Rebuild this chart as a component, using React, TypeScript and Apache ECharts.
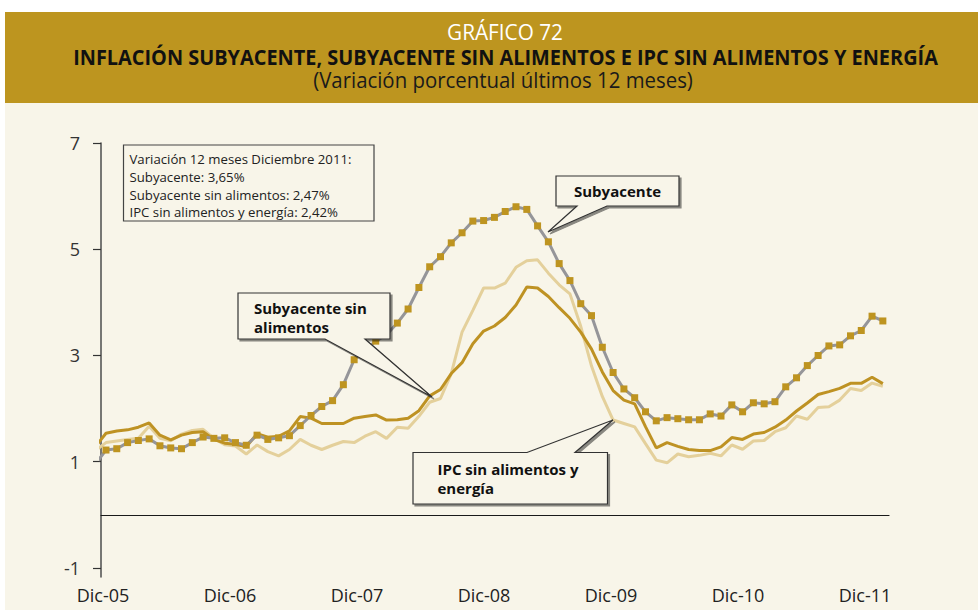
import React, { useEffect, useRef } from "react";
import * as echarts from "echarts";

// Month index 0 = Dic-05; the first value of each series is Nov-05 (index -1)
const startIndex = -1;

const xLabels = ["Dic-05", "Dic-06", "Dic-07", "Dic-08", "Dic-09", "Dic-10", "Dic-11"];
const yTicks = [-1, 1, 3, 5, 7];

const subyacente = [
  0.95,
  1.22, 1.245, 1.36, 1.40, 1.43, 1.30, 1.26, 1.245, 1.36, 1.465,
  1.44, 1.45, 1.36, 1.31, 1.50, 1.42, 1.45, 1.49, 1.68, 1.87,
  2.04, 2.15, 2.45, 2.92, 3.10, 3.27, 3.39, 3.61, 3.875, 4.28,
  4.67, 4.86, 5.12, 5.31, 5.53, 5.54, 5.60, 5.71, 5.80, 5.75,
  5.44, 5.14, 4.73, 4.41, 3.975, 3.75, 3.155, 2.68, 2.37, 2.205,
  1.94, 1.77, 1.83, 1.81, 1.79, 1.79, 1.90, 1.86, 2.07, 1.94,
  2.11, 2.09, 2.13, 2.41, 2.58, 2.81, 3.00, 3.18, 3.20, 3.37,
  3.47, 3.74, 3.65,
];

const subyacenteSinAlimentos = [
  1.28,
  1.535, 1.58, 1.60, 1.65, 1.73, 1.50, 1.41, 1.50, 1.55, 1.565,
  1.42, 1.35, 1.33, 1.28, 1.53, 1.46, 1.48, 1.58, 1.85, 1.82,
  1.72, 1.72, 1.72, 1.82, 1.85, 1.88, 1.785, 1.79, 1.82, 1.96,
  2.24, 2.36, 2.66, 2.865, 3.22, 3.46, 3.555, 3.715, 3.95, 4.29,
  4.27, 4.11, 3.90, 3.70, 3.44, 3.12, 2.69, 2.34, 2.16, 2.09,
  1.66, 1.26, 1.36, 1.29, 1.23, 1.21, 1.21, 1.28, 1.455, 1.42,
  1.52, 1.55, 1.65, 1.785, 1.955, 2.105, 2.265, 2.32, 2.38, 2.475,
  2.475, 2.59, 2.47,
];

const ipcSinAlimentosEnergia = [
  1.21,
  1.36, 1.39, 1.42, 1.44, 1.67, 1.44, 1.395, 1.52, 1.59, 1.61,
  1.44, 1.32, 1.295, 1.145, 1.315, 1.19, 1.11, 1.23, 1.42, 1.31,
  1.23, 1.31, 1.38, 1.36, 1.48, 1.565, 1.44, 1.65, 1.63, 1.855,
  2.12, 2.19, 2.66, 3.44, 3.85, 4.27, 4.27, 4.36, 4.66, 4.785,
  4.80, 4.55, 4.33, 4.16, 3.55, 2.80, 2.23, 1.785, 1.72, 1.655,
  1.34, 1.03, 0.98, 1.145, 1.095, 1.12, 1.16, 1.11, 1.315, 1.235,
  1.39, 1.40, 1.565, 1.64, 1.86, 1.80, 2.02, 2.035, 2.16, 2.38,
  2.34, 2.48, 2.42,
];

const titleTop = "GRÁFICO 72";
const titleMain = "INFLACIÓN SUBYACENTE, SUBYACENTE SIN ALIMENTOS E IPC SIN ALIMENTOS Y ENERGÍA";
const titleSub = "(Variación porcentual últimos 12 meses)";
const infoLines = [
  "Variación 12 meses Diciembre 2011:",
  "Subyacente: 3,65%",
  "Subyacente sin alimentos: 2,47%",
  "IPC sin alimentos y energía: 2,42%",
];
const calloutSub = ["Subyacente"];
const calloutSinAlim = ["Subyacente sin", "alimentos"];
const calloutIpc = ["IPC sin alimentos y", "energía"];

const GOLD = "#BD951F";
const CREAM = "#F8F5E9";
const SANS = '"Open Sans", "Noto Sans", sans-serif';

function toPoints(values: number[]) {
  return values.map((v, i) => [i + startIndex, v]);
}

function measure(text: string, size: number, weight: string) {
  const ctx = document.createElement("canvas").getContext("2d");
  if (!ctx) return text.length * size * 0.55;
  ctx.font = `${weight} ${size}px "Open Sans", "Noto Sans", sans-serif`;
  return ctx.measureText(text).width;
}

function fitTitle(text: string, x: number, y: number, size: number, weight: string, fill: string, width: number) {
  const w = measure(text, size, weight);
  const sx = w > 0 ? width / w : 1;
  return {
    type: "text",
    z: 10,
    x,
    y,
    scaleX: sx,
    style: { text, fill, fontSize: size, fontFamily: SANS, fontWeight: weight, align: "center", verticalAlign: "middle" },
  };
}

export default function App() {
  const ref = useRef<HTMLDivElement>(null);

  useEffect(() => {
    if (!ref.current) return;
    const chart = echarts.init(ref.current, null, { renderer: "svg" });

    const grayData = subyacente.map((v, i) =>
      i + startIndex < 0
        ? { value: [i + startIndex, v], symbol: "none" }
        : { value: [i + startIndex, v] }
    );

    const boxStroke = "#333333";
    const shadow = {
      shadowColor: "rgba(0,0,0,0.45)",
      shadowOffsetX: 2,
      shadowOffsetY: 2,
      shadowBlur: 1,
    };

    const option: any = {
      animation: false,
      backgroundColor: "#ffffff",
      grid: [
        { left: 101, right: 89, top: 143, bottom: 33, containLabel: false },
        { left: 103, right: 113, top: 560, bottom: 30, containLabel: false },
      ],
      xAxis: [
        {
          gridIndex: 0,
          type: "value",
          min: -0.463,
          max: 72.57,
          axisLine: { show: true, onZero: true, lineStyle: { color: "#1a1a1a", width: 1.2 } },
          axisTick: { show: false },
          axisLabel: { show: false },
          splitLine: { show: false },
        },
        {
          gridIndex: 1,
          type: "category",
          boundaryGap: false,
          data: xLabels,
          axisLine: { show: false },
          axisTick: { show: false },
          axisLabel: {
            interval: 0,
            margin: 6,
            fontSize: 18,
            fontFamily: SANS,
            color: "#222222",
          },
          splitLine: { show: false },
        },
      ],
      yAxis: [
        {
          gridIndex: 0,
          type: "value",
          min: -1.17,
          max: 7,
          axisLine: { show: true, onZero: false, lineStyle: { color: "#4d4d4d", width: 1.5 } },
          axisTick: {
            show: true,
            customValues: yTicks,
            length: 8,
            inside: false,
            lineStyle: { color: "#333333", width: 1.2 },
          },
          axisLabel: {
            customValues: yTicks,
            margin: 21,
            fontSize: 18,
            fontFamily: SANS,
            color: "#333333",
          },
          splitLine: { show: false },
        },
        { gridIndex: 1, type: "value", show: false },
      ],
      series: [
        {
          name: "IPC sin alimentos y energía",
          type: "line",
          xAxisIndex: 0,
          yAxisIndex: 0,
          data: toPoints(ipcSinAlimentosEnergia),
          symbol: "none",
          lineStyle: { color: "#E4D09B", width: 3 },
          z: 2,
        },
        {
          name: "Subyacente sin alimentos",
          type: "line",
          xAxisIndex: 0,
          yAxisIndex: 0,
          data: toPoints(subyacenteSinAlimentos),
          symbol: "none",
          lineStyle: { color: "#BE9223", width: 3 },
          z: 3,
        },
        {
          name: "Subyacente",
          type: "line",
          xAxisIndex: 0,
          yAxisIndex: 0,
          data: grayData,
          symbol: "rect",
          symbolSize: 7,
          showSymbol: true,
          showAllSymbol: true,
          itemStyle: { color: "#BE9420", borderWidth: 0 },
          lineStyle: { color: "#959599", width: 3 },
          z: 4,
        },
      ],
      graphic: [
        // backgrounds
        { type: "rect", z: -10, silent: true, shape: { x: 5, y: 12, width: 973, height: 91 }, style: { fill: GOLD } },
        { type: "rect", z: -10, silent: true, shape: { x: 5, y: 103, width: 973, height: 507 }, style: { fill: CREAM } },
        // titles (horizontally condensed to match the narrow typeface)
        fitTitle(titleTop, 505, 32, 21, "normal", "#ffffff", 116),
        fitTitle(titleMain, 505.5, 57, 21, "bold", "#111111", 865),
        fitTitle(titleSub, 503, 80, 21, "normal", "#1a1a1a", 380),
        // info box
        {
          type: "rect", z: 20, shape: { x: 123.5, y: 145, width: 250.5, height: 76 },
          style: { fill: CREAM, stroke: "#444444", lineWidth: 1.2 },
        },
        {
          type: "text", z: 21, x: 129.5, y: 150,
          style: { text: infoLines.join("\n"), fill: "#222222", fontSize: 13.2, fontFamily: SANS, lineHeight: 17.8, align: "left", verticalAlign: "top" },
        },
        // callout: Subyacente
        {
          type: "polygon", z: 20,
          shape: { points: [[556, 176], [679, 176], [679, 206], [607, 206], [548, 232], [577, 206], [556, 206]] },
          style: { fill: CREAM, stroke: boxStroke, lineWidth: 1.2, ...shadow },
        },
        {
          type: "text", z: 21, x: 617.5, y: 191,
          style: { text: calloutSub.join("\n"), fill: "#111111", fontSize: 15, fontWeight: "bold", fontFamily: SANS, align: "center", verticalAlign: "middle" },
        },
        // callout: Subyacente sin alimentos
        {
          type: "polygon", z: 20,
          shape: { points: [[238, 293], [390, 293], [390, 339], [365, 339], [432, 397], [325, 339], [238, 339]] },
          style: { fill: CREAM, stroke: boxStroke, lineWidth: 1.2, ...shadow },
        },
        {
          type: "text", z: 21, x: 254, y: 298,
          style: { text: calloutSinAlim.join("\n"), fill: "#111111", fontSize: 15, fontWeight: "bold", fontFamily: SANS, lineHeight: 19, align: "left", verticalAlign: "top" },
        },
        // callout: IPC sin alimentos y energía
        {
          type: "polygon", z: 20,
          shape: { points: [[413, 452.5], [527, 452.5], [613, 420], [575, 452.5], [607.5, 452.5], [607.5, 504], [413, 504]] },
          style: { fill: CREAM, stroke: boxStroke, lineWidth: 1.2, ...shadow },
        },
        {
          type: "text", z: 21, x: 437.5, y: 459,
          style: { text: calloutIpc.join("\n"), fill: "#111111", fontSize: 15, fontWeight: "bold", fontFamily: SANS, lineHeight: 19, align: "left", verticalAlign: "top" },
        },
      ],
    };

    chart.setOption(option);
    return () => chart.dispose();
  }, []);

  return (
    <div
      ref={ref}
      style={{ position: "absolute", left: 0, top: 0, width: 978, height: 610 }}
    />
  );
}
